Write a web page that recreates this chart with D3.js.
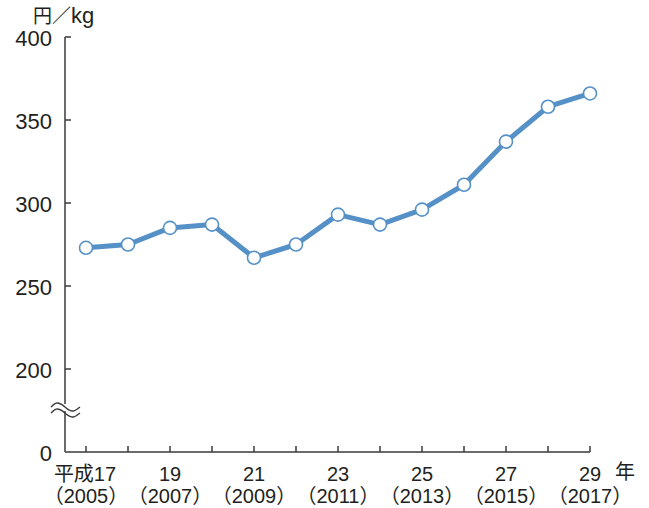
<!DOCTYPE html>
<html>
<head>
<meta charset="utf-8">
<script src="https://cdn.jsdelivr.net/npm/d3@7"></script>
<style>
  body { margin: 0; background: #fff; }
  text { font-family: "Liberation Sans", Arial, "Noto Sans CJK JP", sans-serif; fill: #231f20; }
</style>
</head>
<body>
<svg id="chart" width="649" height="508"></svg>
<script>
// yearly price, yen per kg
const years = [2005, 2006, 2007, 2008, 2009, 2010, 2011, 2012, 2013, 2014, 2015, 2016, 2017];
const values = [273, 275, 285, 287, 267, 275, 293, 287, 296, 311, 337, 358, 366];
const yTicks = [0, 200, 250, 300, 350, 400];
const xLabelYears = [2005, 2007, 2009, 2011, 2013, 2015, 2017];
const heisei = ["平成17", "19", "21", "23", "25", "27", "29"];

const svg = d3.select("#chart");
const axisColor = "#3a3a3a";
const lineColor = "#5590c6";

const x = d3.scaleLinear().domain([2005, 2017]).range([86, 590]);
// broken axis: 0..200 squeezed below the break
const y = d3.scaleLinear().domain([0, 200, 400]).range([452, 369, 37]);

// y axis
svg.append("line")
    .attr("x1", 65).attr("x2", 65)
    .attr("y1", y(400)).attr("y2", y(0))
    .attr("stroke", axisColor).attr("stroke-width", 1.5);

yTicks.forEach(v => {
    if (v > 0) {
        svg.append("line")
            .attr("x1", 65).attr("x2", 71)
            .attr("y1", y(v)).attr("y2", y(v))
            .attr("stroke", axisColor).attr("stroke-width", 1.5);
    }
    svg.append("text")
        .attr("x", 52)
        .attr("y", y(v) + 1)
        .attr("dy", "0.36em")
        .attr("text-anchor", "end")
        .attr("font-size", 22)
        .text(v);
});

// x axis
svg.append("line")
    .attr("x1", 65).attr("x2", x(2017))
    .attr("y1", y(0)).attr("y2", y(0))
    .attr("stroke", axisColor).attr("stroke-width", 1.5);

years.forEach(yr => {
    svg.append("line")
        .attr("x1", x(yr)).attr("x2", x(yr))
        .attr("y1", y(0)).attr("y2", y(0) - 6)
        .attr("stroke", axisColor).attr("stroke-width", 1.5);
});

xLabelYears.forEach((yr, i) => {
    svg.append("text")
        .attr("x", i == 0 ? x(yr) - 1 : x(yr))
        .attr("y", 481)
        .attr("text-anchor", "middle")
        .attr("font-size", 20)
        .text(heisei[i]);
    svg.append("text")
        .attr("x", x(yr))
        .attr("y", 503)
        .attr("text-anchor", "middle")
        .attr("font-size", 20)
        .text("（" + yr + "）");
});

svg.append("text")
    .attr("x", 615).attr("y", 479)
    .attr("font-size", 20)
    .text("年");

const unit = svg.append("text")
    .attr("x", 33).attr("y", 23)
    .attr("font-size", 19);
unit.append("tspan").text("円／");
unit.append("tspan").attr("font-size", 22).text("kg");

// break mark
const brk = d3.line().curve(d3.curveBasis);
const wave = dy => [[51, 407 + dy], [56, 402 + dy], [62, 404 + dy], [68, 410 + dy], [74, 412 + dy], [80, 407 + dy]];
svg.append("rect")
    .attr("x", 60).attr("y", 404).attr("width", 10).attr("height", 7)
    .attr("fill", "#fff");
[0, 6].forEach(dy => {
    svg.append("path")
        .attr("d", brk(wave(dy)))
        .attr("fill", "none")
        .attr("stroke", axisColor).attr("stroke-width", 1.4);
});

// series
const line = d3.line()
    .x((d, i) => x(years[i]))
    .y(d => y(d));

svg.append("path")
    .attr("d", line(values))
    .attr("fill", "none")
    .attr("stroke", lineColor)
    .attr("stroke-width", 5)
    .attr("stroke-linejoin", "round");

svg.selectAll("circle.pt")
    .data(values)
    .enter()
    .append("circle")
    .attr("class", "pt")
    .attr("cx", (d, i) => x(years[i]))
    .attr("cy", d => y(d))
    .attr("r", 6.5)
    .attr("fill", "#fff")
    .attr("stroke", lineColor)
    .attr("stroke-width", 1.6);
</script>
</body>
</html>
